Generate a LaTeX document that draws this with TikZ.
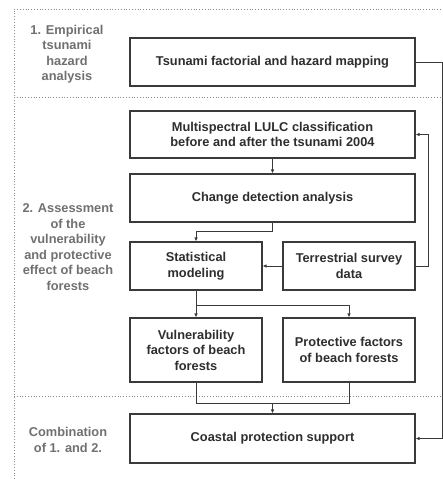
\documentclass[tikz,border=0pt]{standalone}
\usepackage{fontspec}
\setmainfont{Liberation Sans}
\usepackage{xcolor}
\usetikzlibrary{arrows.meta, positioning, calc}
\definecolor{fwLine}{HTML}{3A3A3A}
\definecolor{fwText}{HTML}{2E2E2E}
\definecolor{fwLabel}{HTML}{707070}
\definecolor{fwDots}{HTML}{8A8A8A}
\tikzset{
  fw-box/.style={
    rectangle, draw=fwLine, line width=1.1pt, fill=white,
    minimum height=48pt, align=center, text=fwText,
    font=\fontsize{12.8}{15.5}\selectfont\bfseries, inner sep=2pt
  },
  fw-wide/.style={fw-box, minimum width=285pt},
  fw-half/.style={fw-box, minimum width=132pt},
  fw-phase/.style={
    align=center, text=fwLabel, font=\fontsize{12.8}{15.5}\selectfont\bfseries
  },
  fw-sep/.style={draw=fwDots, line width=0.8pt, dotted},
  fw-flow/.style={-{Latex[length=4pt,width=3.5pt]}, draw=fwLine, line width=0.9pt},
  fw-join/.style={draw=fwLine, line width=0.9pt},
}
\begin{document}
\begin{tikzpicture}[x=1pt, y=-1pt]
  \useasboundingbox (0,0) rectangle (443,479);

  % phase frame
  \draw[fw-sep] (14,479) -- (14,9) -- (443,9);
  \draw[fw-sep] (14,97) -- (443,97);
  \draw[fw-sep] (14,396) -- (443,396);

  % phase labels
  \node[fw-phase] (p1) at (67,54)  {1. Empirical\\tsunami\\hazard\\analysis};
  \node[fw-phase] (p2) at (68,247) {2. Assessment\\of the\\vulnerability\\and protective\\effect of beach\\forests};
  \node[fw-phase] (p3) at (68,440) {Combination\\of 1. and 2.};

  % steps
  \node[fw-wide] (hazard) at (272.5,62)  {Tsunami factorial and hazard mapping};
  \node[fw-wide, minimum height=47pt] (lulc) at (272.5,134.5) {Multispectral LULC classification\\before and after the tsunami 2004};
  \node[fw-wide] (change) at (272.5,198) {Change detection analysis};
  \node[fw-half] (stat)   at (196,266) {Statistical\\modeling};
  \node[fw-half] (survey) at (349,266) {Terrestrial survey\\data};
  \node[fw-half, minimum height=64pt] (vuln)  at (196,350) {Vulnerability\\factors of beach\\forests};
  \node[fw-half, minimum height=64pt] (protf) at (349,350) {Protective factors\\of beach forests};
  \node[fw-wide, minimum height=49pt] (coast) at (272.5,438.5) {Coastal protection support};

  \coordinate (merge) at ($(change.south |- vuln.south) + (0,21)$);

  \draw[fw-flow] (hazard.east) -- ++(26.5,0) |- (coast.east);
  \draw[fw-flow] (survey.east) -- ++(13,0) |- (lulc.east);
  \draw[fw-flow] (lulc.south) -- (change.north);
  \draw[fw-flow] (change.south) -- ++(0,9) -| (stat.north);
  \draw[fw-flow] (survey.west) -- (stat.east);
  \draw[fw-flow] (stat.south) -- (vuln.north);
  \draw[fw-flow] (stat.south) -- ++(0,15) -| (protf.north);
  \draw[fw-join] (vuln.south) -- ++(0,21) -| (protf.south);
  \draw[fw-flow] (merge) -- (coast.north);
\end{tikzpicture}
\end{document}
